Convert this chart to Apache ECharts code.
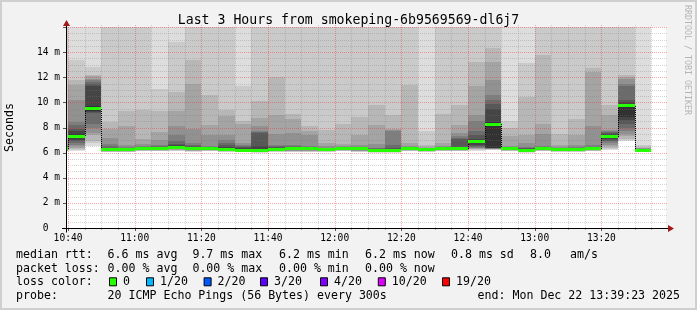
<!DOCTYPE html>
<html><head><meta charset="utf-8">
<script src="https://cdn.jsdelivr.net/npm/echarts@6/dist/echarts.min.js"></script>
<style>html,body{margin:0;padding:0;background:#f2f2f2}#c{width:697px;height:310px}</style>
</head><body><div id="c"></div><script>
// ---------------- data ----------------
const titleText = 'Last 3 Hours from smokeping-6b9569569-dl6j7';
const yAxisName = 'Seconds';
const rangeStart = '10:39:23';
const rangeEnd = '13:39:23';
const stepMinutes = 5;
const barStarts = ['10:35','10:40','10:45','10:50','10:55','11:00','11:05','11:10','11:15','11:20','11:25','11:30',
  '11:35','11:40','11:45','11:50','11:55','12:00','12:05','12:10','12:15','12:20','12:25','12:30',
  '12:35','12:40','12:45','12:50','12:55','13:00','13:05','13:10','13:15','13:20','13:25','13:30'];
const medians = [6.3,7.3,9.5,6.25,6.22,6.35,6.35,6.43,6.3,6.35,6.27,6.2,
  6.2,6.27,6.3,6.3,6.25,6.3,6.3,6.2,6.2,6.3,6.25,6.3,
  6.3,6.9,8.27,6.3,6.2,6.3,6.25,6.25,6.3,7.25,9.73,6.2];
const lossCounts = [0,0,0,0,0,0,0,0,0,0,0,0, 0,0,0,0,0,0,0,0,0,0,0,0, 0,0,0,0,0,0,0,0,0,0,0,0];
// 20 sorted ping times (ms) per 5-minute step
const smoke = [
  [6.1,6.12,6.14,6.16,6.18,6.2,6.22,6.24,6.26,6.28,6.32,6.36,6.4,6.45,6.5,6.6,7.0,8.0,17,18],
  [6.12,6.22,6.3,6.4,6.5,6.6,6.75,6.9,7.0,7.15,7.45,7.7,7.9,8.2,8.4,10.2,11.4,11.8,13.4,17.5],
  [6.5,6.75,6.9,7.4,7.6,8.0,8.3,9.15,9.25,9.35,9.7,11.3,11.45,11.6,11.8,11.9,12.1,12.2,12.8,17.5],
  [6.03,6.06,6.08,6.1,6.12,6.14,6.16,6.18,6.2,6.22,6.3,6.35,6.4,6.5,6.7,7.2,7.9,8.45,17,18],
  [6.02,6.05,6.08,6.1,6.12,6.14,6.16,6.18,6.2,6.22,6.26,6.3,6.33,6.38,6.45,6.6,8.1,9.3,17,18],
  [6.1,6.13,6.16,6.19,6.22,6.25,6.27,6.29,6.31,6.33,6.38,6.4,6.42,6.45,6.5,6.65,7.1,9.4,17,18],
  [6.1,6.13,6.16,6.19,6.22,6.25,6.27,6.29,6.31,6.33,6.4,6.42,6.45,6.5,6.6,7.0,7.65,9.3,11.1,18],
  [6.1,6.15,6.18,6.22,6.25,6.28,6.3,6.32,6.35,6.38,6.5,6.6,6.7,6.9,7.4,8.1,9.3,10.85,14.8,18],
  [6.08,6.1,6.13,6.16,6.19,6.21,6.23,6.25,6.27,6.28,6.35,6.42,6.5,6.6,6.8,7.9,11.5,13.4,17,18],
  [6.1,6.13,6.16,6.19,6.22,6.25,6.27,6.29,6.31,6.33,6.4,6.42,6.44,6.48,6.55,7.4,8.2,10.6,17,18],
  [6.05,6.08,6.1,6.13,6.15,6.17,6.19,6.21,6.23,6.25,6.35,6.45,6.6,6.8,7.0,7.4,8.9,9.4,17,18],
  [6.02,6.05,6.08,6.1,6.12,6.14,6.16,6.18,6.2,6.22,6.27,6.35,6.42,6.5,6.6,6.8,8.3,8.5,11.3,18],
  [6.0,6.04,6.07,6.1,6.12,6.14,6.16,6.18,6.2,6.22,6.3,6.5,7.55,7.65,7.75,8.1,8.75,10.1,17,18],
  [6.05,6.08,6.1,6.13,6.15,6.17,6.19,6.21,6.23,6.25,6.32,6.38,6.45,6.5,6.6,7.5,9.0,12.0,17,18],
  [6.05,6.08,6.1,6.13,6.16,6.19,6.21,6.23,6.25,6.27,6.35,6.4,6.45,6.5,6.6,7.6,8.65,9.1,17,18],
  [6.05,6.08,6.1,6.13,6.16,6.19,6.21,6.23,6.25,6.27,6.32,6.35,6.38,6.42,6.5,7.4,7.7,8.1,17,18],
  [6.03,6.06,6.09,6.12,6.14,6.16,6.18,6.2,6.22,6.24,6.27,6.3,6.33,6.36,6.4,6.5,6.8,7.8,17,18],
  [6.1,6.13,6.16,6.19,6.22,6.25,6.27,6.29,6.31,6.33,6.35,6.38,6.4,6.42,6.45,6.5,6.7,8.3,17,18],
  [6.05,6.08,6.1,6.13,6.16,6.19,6.21,6.23,6.25,6.28,6.32,6.35,6.37,6.4,6.45,6.6,7.4,8.8,17,18],
  [6.0,6.03,6.06,6.09,6.12,6.14,6.16,6.18,6.2,6.22,6.25,6.28,6.3,6.35,6.4,6.7,8.2,9.8,17,18],
  [6.0,6.03,6.06,6.09,6.12,6.14,6.16,6.18,6.2,6.22,6.25,6.3,6.4,6.6,7.75,7.8,7.85,9.0,17,18],
  [6.1,6.13,6.16,6.19,6.22,6.25,6.27,6.29,6.3,6.31,6.32,6.35,6.37,6.4,6.45,6.55,6.8,11.4,17,18],
  [6.05,6.08,6.1,6.13,6.15,6.17,6.19,6.21,6.23,6.24,6.27,6.3,6.32,6.34,6.37,6.4,6.45,6.6,7.7,18],
  [6.1,6.13,6.16,6.19,6.22,6.25,6.27,6.29,6.3,6.31,6.32,6.35,6.37,6.4,6.45,6.5,6.8,9.1,17,18],
  [6.1,6.13,6.16,6.19,6.22,6.25,6.27,6.29,6.3,6.31,6.35,6.45,7.1,7.2,7.3,7.6,8.2,9.8,17,18],
  [6.1,6.2,6.25,6.3,6.35,6.4,6.45,6.5,6.6,6.8,7.0,7.1,7.4,7.7,8.5,9.0,11.3,13.2,17,18],
  [6.2,6.22,6.25,6.28,6.3,6.32,6.34,6.36,6.38,6.4,8.4,9.5,9.9,10.2,10.6,11.8,13.2,14.3,17,18],
  [6.1,6.13,6.16,6.19,6.22,6.25,6.27,6.29,6.3,6.31,6.33,6.37,6.4,6.42,6.45,6.5,7.3,8.0,8.5,18],
  [6.0,6.03,6.06,6.09,6.12,6.14,6.16,6.18,6.2,6.22,6.25,6.3,6.33,6.38,6.45,6.8,7.4,10.4,13.1,18],
  [6.1,6.13,6.16,6.19,6.22,6.25,6.27,6.29,6.3,6.31,6.33,6.37,6.4,6.45,6.5,7.5,8.3,13.8,17,18],
  [6.05,6.08,6.1,6.13,6.15,6.17,6.19,6.21,6.23,6.24,6.27,6.3,6.34,6.37,6.4,6.45,6.6,7.5,17,18],
  [6.05,6.08,6.1,6.13,6.15,6.17,6.19,6.21,6.23,6.24,6.28,6.32,6.35,6.4,6.45,6.6,7.4,8.7,17,18],
  [6.1,6.13,6.16,6.19,6.22,6.25,6.27,6.29,6.3,6.31,6.34,6.38,6.42,6.48,6.6,8.1,12.4,12.7,17,18],
  [6.2,6.3,6.4,6.5,6.6,6.8,6.9,6.95,7.05,7.15,7.35,7.45,7.55,7.65,7.7,7.8,9.0,9.8,17,18],
  [6.9,7.0,7.1,7.3,7.45,7.7,7.95,8.3,8.6,8.8,9.85,10.0,10.2,11.3,11.5,11.9,12.0,12.2,17,18],
  [6.05,6.08,6.1,6.12,6.14,6.16,6.17,6.18,6.19,6.2,6.22,6.24,6.26,6.28,6.3,6.34,6.38,6.45,6.6,18]
];
const xTickLabels = ['10:40','11:00','11:20','11:40','12:00','12:20','12:40','13:00','13:20'];
const yMin = 0, yMax = 16, yMajor = 2, yMinor = 0.5;
const xMajorMin = 20, xMinorMin = 5;
const lossLegend = ['0','1/20','2/20','3/20','4/20','10/20','19/20'];
const lossThresholds = [0,1,2,3,4,10,19];
const lossColors = ['#26ff00','#00b8ff','#0059ff','#5e00ff','#7e00ff','#dd00ff','#ff0000'];
const rttLabel = 'median rtt:';
const rttStats = ['6.6 ms avg','9.7 ms max','6.2 ms min','6.2 ms now','0.8 ms sd','8.0','am/s'];
const lossLabel = 'packet loss:';
const lossStats = ['0.00 % avg','0.00 % max','0.00 % min','0.00 % now'];
const lossColorLabel = 'loss color:';
const probeLabel = 'probe:';
const probeText = '20 ICMP Echo Pings (56 Bytes) every 300s';
const endText = 'end: Mon Dec 22 13:39:23 2025';
const sideText = 'RRDTOOL / TOBI OETIKER';

// ---------------- helpers ----------------
const toMin = s => { const p = s.split(':').map(Number); return p[0] * 60 + p[1] + (p[2] || 0) / 60; };
const fmtMin = m => { const h = Math.floor(m / 60), mm = Math.round(m - h * 60); return String(h).padStart(2, '0') + ':' + String(mm).padStart(2, '0'); };
const X_MIN = toMin(rangeStart), X_MAX = toMin(rangeEnd);
const hex2 = v => v.toString(16).padStart(2, '0');
const grays = [];
for (let k = 1; k <= 10; k++) { const c = Math.floor(190 / 10 * (10 - k)) + 50; grays.push('#' + hex2(c) + hex2(c) + hex2(c)); }
const lossColorFor = n => { let c = lossColors[0]; lossThresholds.forEach((t, i) => { if (n >= t) c = lossColors[i]; }); return c; };

const MONO = '"DejaVu Sans Mono", monospace';
const barData = barStarts.map((s, i) => [toMin(s), toMin(s) + stepMinutes, i, medians[i]]);

function clipTo(cs, x0, y0, x1, y1) {
  return echarts.graphic.clipRectByRect({ x: x0, y: y0, width: x1 - x0, height: y1 - y0 },
    { x: cs.x, y: cs.y, width: cs.width, height: cs.height });
}

function renderSmoke(params, api) {
  const cs = params.coordSys;
  const i = api.value(2), t0 = api.value(0), t1 = api.value(1);
  const p = smoke[i];
  const children = [];
  for (let k = 0; k < 10; k++) {
    const lo = p[k], hi = p[19 - k];
    const a = api.coord([t0, hi]), b = api.coord([t1, lo]);
    const x0 = Math.round(a[0]), x1 = Math.round(b[0]);
    const y0 = Math.round(a[1]), y1 = Math.round(b[1]);
    if (y1 - y0 <= 0) continue;
    const shape = clipTo(cs, x0, y0, x1, y1);
    if (shape) children.push({ type: 'rect', shape, style: { fill: grays[k] } });
  }
  return { type: 'group', children };
}

function renderMedian(params, api) {
  const cs = params.coordSys;
  const i = api.value(2), t0 = api.value(0), t1 = api.value(1), m = api.value(3);
  const a = api.coord([t0, m]), b = api.coord([t1, m]);
  const x0 = Math.round(a[0]), x1 = Math.round(b[0]);
  const y0 = Math.round(a[1] - 1.5);
  const shape = clipTo(cs, x0, y0, x1, y0 + 3);
  if (!shape) return null;
  return { type: 'rect', shape, style: { fill: lossColorFor(lossCounts[i]) } };
}

function renderStep(params, api) {
  const cs = params.coordSys;
  const i = api.value(2);
  if (i === 0) return null;
  const t0 = api.value(0), m = api.value(3), pm = medians[i - 1];
  const a = api.coord([t0, pm]), b = api.coord([t0, m]);
  const x = Math.round(a[0]) + 0.5;
  if (x < cs.x || x > cs.x + cs.width) return null;
  return { type: 'line', shape: { x1: x, y1: Math.round(a[1]), x2: x, y2: Math.round(b[1]) },
    style: { stroke: '#000', lineWidth: 1, lineDash: [1, 1] } };
}

function renderGrid(params, api) {
  const cs = params.coordSys;
  const left = cs.x, right = cs.x + cs.width, top = cs.y, bottom = cs.y + cs.height;
  const ch = [];
  const minorCol = 'rgba(120,120,120,0.32)', majorCol = 'rgba(240,40,40,0.4)';
  // horizontal
  for (let v = yMin + yMinor; v <= yMax + 1e-9; v += yMinor) {
    const y = Math.round(api.coord([X_MIN, v])[1]) + 0.5;
    const major = Math.abs(v / yMajor - Math.round(v / yMajor)) < 1e-9;
    ch.push({ type: 'line', shape: { x1: left, y1: y, x2: right + 2, y2: y },
      style: { stroke: major ? majorCol : minorCol, lineWidth: 1, lineDash: [1, 1] } });
    if (major) ch.push({ type: 'line', shape: { x1: left - 3, y1: y, x2: left, y2: y }, style: { stroke: '#555', lineWidth: 1 } });
  }
  // vertical
  const first = Math.ceil(X_MIN / xMinorMin) * xMinorMin;
  for (let t = first; t <= X_MAX; t += xMinorMin) {
    const x = Math.round(api.coord([t, 0])[0]) + 0.5;
    const major = (Math.round(t) % xMajorMin) === 0;
    ch.push({ type: 'line', shape: { x1: x, y1: top - 2, x2: x, y2: bottom },
      style: { stroke: major ? majorCol : minorCol, lineWidth: 1, lineDash: [1, 1] } });
    ch.push({ type: 'line', shape: { x1: x, y1: bottom, x2: x, y2: bottom + (major ? 3 : 2) },
      style: { stroke: major ? '#555' : '#aaa', lineWidth: 1 } });
  }
  return { type: 'group', children: ch };
}

function renderAxes(params, api) {
  const cs = params.coordSys;
  const left = cs.x + 0.5, right = cs.x + cs.width, top = cs.y, bottom = cs.y + cs.height + 0.5;
  const arrowCol = '#a01818';
  return { type: 'group', children: [
    { type: 'line', shape: { x1: cs.x - 4, y1: bottom, x2: right + 3, y2: bottom }, style: { stroke: '#000', lineWidth: 1 } },
    { type: 'line', shape: { x1: left, y1: bottom + 4, x2: left, y2: top - 1 }, style: { stroke: '#000', lineWidth: 1 } },
    { type: 'polygon', shape: { points: [[right + 2, bottom - 3.5], [right + 8, bottom], [right + 2, bottom + 3.5]] }, style: { fill: arrowCol } },
    { type: 'polygon', shape: { points: [[left - 3.5, top - 1], [left, top - 7], [left + 3.5, top - 1]] }, style: { fill: arrowCol } }
  ] };
}

// ---------------- legend text graphics ----------------
const LF = '11.6px ' + MONO;
const rowY = [255, 268.5, 282.3, 296];
const colX = [16, 107.6, 192.4, 279, 365, 451, 530, 570];
const txt = (text, x, y, extra) => Object.assign({ type: 'text', x, y, silent: true,
  style: { text, font: LF, fill: '#000', verticalAlign: 'middle', align: 'left' } }, extra || {});
const graphics = [];
graphics.push({ type: 'rect', shape: { x: 1, y: 1, width: 695, height: 308 }, style: { fill: 'none', stroke: '#cfcfcf', lineWidth: 2 }, silent: true });
graphics.push(txt(rttLabel, colX[0], rowY[0]));
rttStats.forEach((s, i) => graphics.push(txt(s, colX[i + 1], rowY[0])));
graphics.push(txt(lossLabel, colX[0], rowY[1]));
lossStats.forEach((s, i) => graphics.push(txt(s, colX[i + 1], rowY[1])));
graphics.push(txt(lossColorLabel, colX[0], rowY[2]));
const boxX = [109, 146, 203.6, 260, 320, 377.8, 442];
lossLegend.forEach((s, i) => {
  graphics.push({ type: 'rect', silent: true, shape: { x: boxX[i] + 0.5, y: rowY[2] - 4.5, width: 7, height: 8 },
    style: { fill: lossColors[i], stroke: '#000', lineWidth: 1 } });
  graphics.push(txt(s, boxX[i] + 14, rowY[2]));
});
graphics.push(txt(probeLabel, colX[0], rowY[3]));
graphics.push(txt(probeText, colX[1], rowY[3]));
graphics.push(txt(endText, 680, rowY[3], { style: { text: endText, font: LF, fill: '#000', verticalAlign: 'middle', align: 'right' } }));
graphics.push({ type: 'text', x: 10, y: 127.5, rotation: Math.PI / 2, silent: true,
  style: { text: yAxisName, font: LF, fill: '#000', align: 'center', verticalAlign: 'middle' } });
graphics.push({ type: 'text', x: 687, y: 5, rotation: -Math.PI / 2, silent: true,
  style: { text: sideText, font: '8.3px ' + MONO, fill: '#b4b4b4', align: 'left', verticalAlign: 'middle' } });

// ---------------- chart ----------------
const chart = echarts.init(document.getElementById('c'), null, { renderer: 'canvas' });
chart.setOption({
  backgroundColor: '#f2f2f2',
  animation: false,
  title: { text: titleText, left: 'center', top: 9, textStyle: { fontFamily: MONO, fontSize: 13.2, fontWeight: 'normal', color: '#000' } },
  grid: { left: 66, top: 27, width: 600, height: 201, show: true, backgroundColor: '#ffffff', borderWidth: 0 },
  xAxis: {
    type: 'value', min: X_MIN, max: X_MAX,
    axisLine: { show: false }, axisTick: { show: false }, splitLine: { show: false },
    axisLabel: { customValues: xTickLabels.map(toMin), formatter: v => fmtMin(v), fontFamily: MONO, fontSize: 9.6, color: '#000', margin: 5, showMinLabel: true, showMaxLabel: true }
  },
  yAxis: {
    type: 'value', min: yMin, max: yMax, interval: yMajor,
    axisLine: { show: false }, axisTick: { show: false }, splitLine: { show: false },
    axisLabel: { formatter: v => v === 0 ? '0  ' : (v >= yMax ? '' : v + ' m'), fontFamily: MONO, fontSize: 9.6, color: '#000', margin: 6 }
  },
  graphic: graphics,
  series: [
    { type: 'custom', name: 'smoke', renderItem: renderSmoke, data: barData, encode: { x: [0, 1], y: 3 }, z: 2, silent: true },
    { type: 'custom', name: 'grid', renderItem: renderGrid, data: [[X_MIN, 0]], encode: { x: 0, y: 1 }, z: 3, silent: true },
    { type: 'custom', name: 'step', renderItem: renderStep, data: barData, encode: { x: [0, 1], y: 3 }, z: 4, silent: true },
    { type: 'custom', name: 'median', renderItem: renderMedian, data: barData, encode: { x: [0, 1], y: 3 }, z: 5, silent: true },
    { type: 'custom', name: 'axes', renderItem: renderAxes, data: [[X_MIN, 0]], encode: { x: 0, y: 1 }, z: 6, silent: true }
  ]
});
</script></body></html>
